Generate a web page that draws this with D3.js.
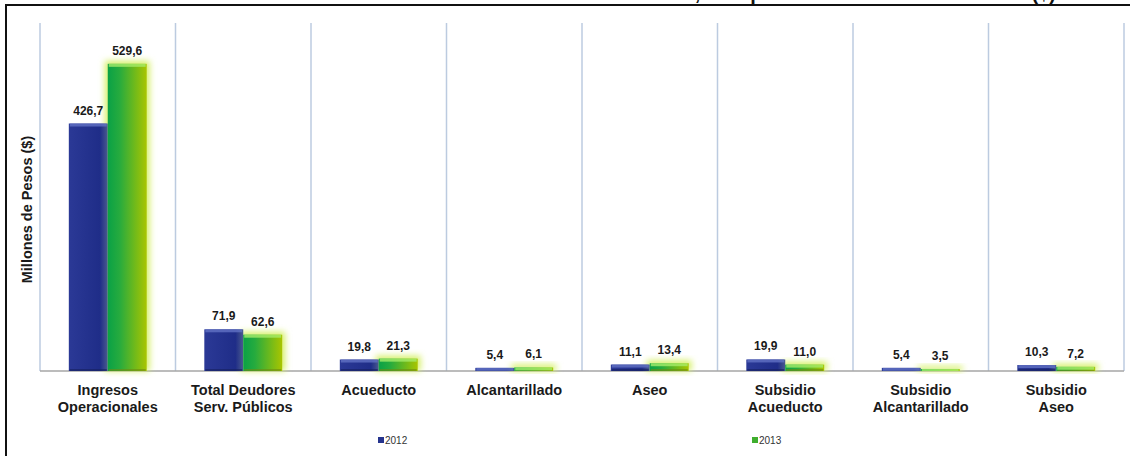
<!DOCTYPE html>
<html>
<head>
<meta charset="utf-8">
<script src="https://cdn.jsdelivr.net/npm/d3@7"></script>
<style>
    body{margin:0;background:#fff;}
    svg{display:block;font-family:"Liberation Sans", Arial, sans-serif;}
</style>
</head>
<body>
<div id="chart"></div>
<script>
// Datos (millones de pesos)
const categories = [
    ["Ingresos", "Operacionales"],
    ["Total Deudores", "Serv. Públicos"],
    ["Acueducto"],
    ["Alcantarillado"],
    ["Aseo"],
    ["Subsidio", "Acueducto"],
    ["Subsidio", "Alcantarillado"],
    ["Subsidio", "Aseo"]
];
const series = ["2012", "2013"];
const values2012 = [426.7, 71.9, 19.8, 5.4, 11.1, 19.9, 5.4, 10.3];
const values2013 = [529.6, 62.6, 21.3, 6.1, 13.4, 11.0, 3.5, 7.2];
const yDomain = [0, 600];
const titleText = "Estado Deudores Servicios Públicos, Comparativo 2012 - 2013 Millones ($)";
const yLabel = "Millones de Pesos ($)";

const W = 1130, H = 456;
const plot = {left: 40, right: 1124, top: 23, bottom: 371};

const fmt = d3.format(".1f");
const fmtComma = v => fmt(v).replace(".", ",");

const svg = d3.select("#chart").append("svg")
    .attr("width", W)
    .attr("height", H);

let defs = svg.append("defs");

let gBlue = defs.append("linearGradient").attr("id", "gBlue")
    .attr("x1", 0).attr("x2", 1).attr("y1", 0).attr("y2", 0);
gBlue.append("stop").attr("offset", 0).attr("stop-color", "#2b3996");
gBlue.append("stop").attr("offset", 0.8).attr("stop-color", "#1f2d88");
gBlue.append("stop").attr("offset", 1).attr("stop-color", "#4a5a8e");

let gGreen = defs.append("linearGradient").attr("id", "gGreen")
    .attr("x1", 0).attr("x2", 1).attr("y1", 0).attr("y2", 0);
gGreen.append("stop").attr("offset", 0).attr("stop-color", "#0aa146");
gGreen.append("stop").attr("offset", 0.3).attr("stop-color", "#26ab3e");
gGreen.append("stop").attr("offset", 1).attr("stop-color", "#a9c500");

let glow = defs.append("filter").attr("id", "glow")
    .attr("x", "-40%").attr("y", "-40%").attr("width", "180%").attr("height", "180%");
glow.append("feGaussianBlur").attr("stdDeviation", 3);

// Marco
svg.append("rect")
    .attr("x", 6).attr("y", 5)
    .attr("width", W + 10).attr("height", H + 10)
    .attr("fill", "none")
    .attr("stroke", "#111")
    .attr("stroke-width", 2);

// Titulo (recortado en la parte superior)
svg.append("text")
    .attr("x", 1056).attr("y", 0)
    .attr("text-anchor", "end")
    .attr("font-size", 20)
    .attr("font-weight", "bold")
    .attr("fill", "#111")
    .text(titleText);

const x = d3.scaleBand()
    .domain(d3.range(categories.length))
    .range([plot.left, plot.right])
    .padding(0);

const xSub = d3.scaleBand()
    .domain(series)
    .range([0, x.bandwidth()])
    .paddingOuter(0.74)
    .paddingInner(0);

const y = d3.scaleLinear()
    .domain(yDomain)
    .range([plot.bottom, plot.top]);

// Lineas divisorias de categorias
const bounds = d3.range(categories.length + 1).map(i => i < categories.length ? x(i) : x(i - 1) + x.bandwidth());
svg.append("g").selectAll("line")
    .data(bounds)
    .join("line")
    .attr("x1", d => d).attr("x2", d => d)
    .attr("y1", y(yDomain[1])).attr("y2", y(0))
    .attr("stroke", "#bccbe0")
    .attr("stroke-width", 1.5);

// Linea base
svg.append("line")
    .attr("x1", plot.left).attr("x2", plot.right)
    .attr("y1", y(0)).attr("y2", y(0))
    .attr("stroke", "#a6a6a6")
    .attr("stroke-width", 1.5);

const rows = categories.map((c, i) => ({i: i, v: [values2012[i], values2013[i]]}));

const groups = svg.append("g").selectAll("g")
    .data(rows)
    .join("g")
    .attr("transform", d => "translate(" + x(d.i) + ",0)");

// Resplandor verde
groups.append("rect")
    .attr("x", xSub("2013") - 3)
    .attr("y", d => y(d.v[1]) - 3)
    .attr("width", xSub.bandwidth() + 6)
    .attr("height", d => y(0) - y(d.v[1]) + 3)
    .attr("fill", "#d6f06a")
    .attr("filter", "url(#glow)");

series.forEach(function(s, k){
    let fill = k === 0 ? "url(#gBlue)" : "url(#gGreen)";
    let top = k === 0 ? "#6272c4" : "#a6ec6a";
    let bottom = k === 0 ? "#16205e" : "#6e8a10";
    let bars = groups.append("g");

    bars.append("rect")
        .attr("x", xSub(s))
        .attr("y", d => y(d.v[k]))
        .attr("width", xSub.bandwidth())
        .attr("height", d => y(0) - y(d.v[k]))
        .attr("fill", fill);

    bars.append("rect")
        .attr("x", xSub(s) + 1)
        .attr("y", d => y(d.v[k]))
        .attr("width", xSub.bandwidth() - 2)
        .attr("height", d => Math.min(3, y(0) - y(d.v[k])))
        .attr("fill", top)
        .attr("opacity", 0.8);

    bars.append("rect")
        .attr("x", xSub(s) + 1)
        .attr("y", d => Math.max(y(d.v[k]) + 3, y(0) - 2))
        .attr("width", xSub.bandwidth() - 2)
        .attr("height", d => Math.max(0, Math.min(2, y(0) - y(d.v[k]) - 3)))
        .attr("fill", bottom)
        .attr("opacity", 0.6);

    bars.append("text")
        .attr("x", xSub(s) + xSub.bandwidth() / 2)
        .attr("y", d => y(d.v[k]) - 9)
        .attr("text-anchor", "middle")
        .attr("font-size", 12)
        .attr("font-weight", "bold")
        .attr("fill", "#1a1a1a")
        .text(d => fmtComma(d.v[k]));
});

// Etiquetas de categoria
const xAxis = svg.append("g");
categories.forEach(function(c, i){
    let t = xAxis.append("text")
        .attr("x", x(i) + x.bandwidth() / 2)
        .attr("y", 394.5)
        .attr("text-anchor", "middle")
        .attr("font-size", 14.5)
        .attr("font-weight", "bold")
        .attr("fill", "#1a1a1a");
    c.forEach(function(line, j){
        t.append("tspan")
            .attr("x", x(i) + x.bandwidth() / 2)
            .attr("dy", j === 0 ? 0 : 17)
            .text(line);
    });
});

// Titulo eje Y
svg.append("text")
    .attr("transform", "translate(32,209.5) rotate(-90)")
    .attr("text-anchor", "middle")
    .attr("font-size", 14.5)
    .attr("font-weight", "bold")
    .attr("fill", "#1a1a1a")
    .text(yLabel);

// Leyenda
const legendX = [378, 752];
const legendColors = ["#26348e", "#3fae2e"];
series.forEach(function(s, k){
    let g = svg.append("g").attr("transform", "translate(" + legendX[k] + ",440)");
    g.append("rect")
        .attr("x", 0).attr("y", -3)
        .attr("width", 6).attr("height", 6)
        .attr("fill", legendColors[k]);
    g.append("text")
        .attr("x", 7).attr("y", 4)
        .attr("font-size", 10)
        .attr("fill", "#333")
        .text(s);
});
</script>
</body>
</html>
